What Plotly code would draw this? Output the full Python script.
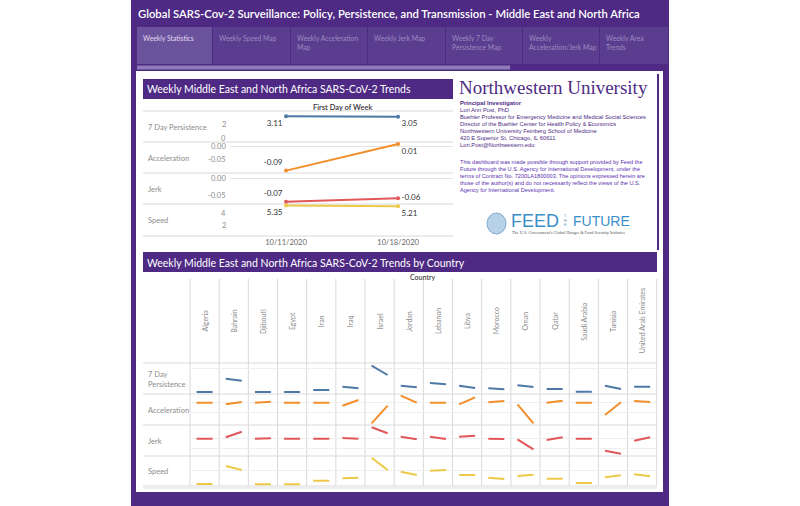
import plotly.graph_objects as go

W, H = 800, 506

# ---------------- data ----------------
weeks = ["10/11/2020", "10/18/2020"]
measures = ["7 Day Persistence", "Acceleration", "Jerk", "Speed"]

region_persistence = [3.11, 3.05]
region_acceleration = [-0.09, 0.01]
region_jerk = [-0.07, -0.06]
region_speed = [5.35, 5.21]

countries = ["Algeria", "Bahrain", "Djibouti", "Egypt", "Iran", "Iraq", "Israel", "Jordan",
             "Lebanon", "Libya", "Morocco", "Oman", "Qatar", "Saudi Arabia", "Tunisia",
             "United Arab Emirates"]
persistence_wk1 = [2.0, 28.6, 2.0, 2.0, 6.0, 12.6, 54.6, 14.6, 20.0, 14.6, 9.4, 15.4, 8.0, 2.6, 14.6, 12.6]
persistence_wk2 = [2.0, 24.6, 2.0, 2.0, 6.2, 9.4, 36.0, 11.4, 17.4, 10.0, 7.4, 12.0, 8.0, 2.6, 8.0, 12.6]
acceleration_wk1 = [0.0, -0.8, 0.0, 0.0, 0.0, -1.5, -10.3, 3.5, 0.0, -0.8, 0.2, -0.8, 0.0, 0.0, -6.15, 0.85]
acceleration_wk2 = [0.0, 0.35, 0.5, 0.0, 0.0, 1.35, -1.5, 0.0, 0.0, 2.7, 0.85, -10.3, 1.0, 0.0, 0.2, 0.35]
jerk_wk1 = [0.0, 0.7, 0.0, 0.0, 0.0, 0.35, 5.7, 1.0, 1.0, 1.0, 0.0, -0.3, -0.65, 0.0, -6.0, -1.0]
jerk_wk2 = [0.0, 3.5, 0.2, 0.0, 0.0, 0.0, 2.7, -0.3, -0.15, 1.5, -0.15, -5.3, 0.7, 0.0, -7.5, 0.7]
speed_wk1 = [1.8, 38.0, 1.6, 1.6, 8.6, 13.4, 54.6, 26.6, 28.6, 20.0, 14.6, 18.0, 12.6, 4.0, 15.4, 21.4]
speed_wk2 = [1.8, 30.0, 1.6, 1.6, 8.6, 14.6, 30.0, 20.0, 30.0, 20.0, 12.0, 20.6, 12.6, 4.0, 19.4, 17.4]

tabs = ["Weekly Statistics", "Weekly Speed Map", "Weekly Acceleration<br>Map", "Weekly Jerk Map",
        "Weekly 7 Day<br>Persistence Map", "Weekly<br>Acceleration/Jerk Map", "Weekly Area<br>Trends"]

contact_lines = ["Lori Ann Post, PhD",
                 "Buehler Professor for Emergency Medicine and Medical Social Sciences",
                 "Director of the Buehler Center for Health Policy & Economics",
                 "Northwestern University Feinberg School of Medicine",
                 "420 E Superior St, Chicago, IL 60611",
                 "Lori.Post@Northwestern.edu"]
disclaimer_lines = ["This dashboard was made possible through support provided by Feed the",
                    "Future through the U.S. Agency for International Development, under the",
                    "terms of Contract No. 7200LA1800003. The opinions expressed herein are",
                    "those of the author(s) and do not necessarily reflect the views of the U.S.",
                    "Agency for International Development."]

# ---------------- style ----------------
PURPLE = "#4e2a84"
TAB = "#5a3d8e"
TAB_ACTIVE = "#6b529d"
BLUE, ORANGE, RED, YELLOW = "#4e79a7", "#f28e2b", "#e15759", "#edc948"
FONT = "Lato"
GRID = "#d9d9d9"
TICK_GREY = "#8c8c8c"


def px(x):
    return x / W


def py(y):
    return 1 - y / H


shapes = []
annotations = []


def rect(x0, y0, x1, y1, color, layer="below"):
    shapes.append(dict(type="rect", xref="paper", yref="paper", x0=px(x0), x1=px(x1),
                       y0=py(y1), y1=py(y0), fillcolor=color, line=dict(width=0), layer=layer))


def hline(x0, x1, y, color=GRID, width=1):
    shapes.append(dict(type="line", xref="paper", yref="paper", x0=px(x0), x1=px(x1),
                       y0=py(y), y1=py(y), line=dict(color=color, width=width), layer="below"))


def vline(x, y0, y1, color=GRID, width=1):
    shapes.append(dict(type="line", xref="paper", yref="paper", x0=px(x), x1=px(x),
                       y0=py(y0), y1=py(y1), line=dict(color=color, width=width), layer="below"))


def text(x, y, s, size, color, xanchor="left", yanchor="middle", family=FONT, weight=None,
         angle=0, align="left"):
    f = dict(size=size, color=color, family=family)
    if weight:
        f["weight"] = weight
    annotations.append(dict(x=px(x), y=py(y), xref="paper", yref="paper", text=s, showarrow=False,
                            xanchor=xanchor, yanchor=yanchor, font=f, textangle=angle,
                            align=align, borderpad=0))


# ---------------- frame ----------------
rect(131, 0, 669, 506, PURPLE)
text(137, 14, "Global SARS-Cov-2 Surveillance: Policy, Persistence, and Transmission - Middle East and North Africa",
     11.3, "white", weight=600)
tab_edges = [137, 213, 291, 368, 446, 523, 600, 669]
for i, t in enumerate(tabs):
    rect(tab_edges[i], 27, tab_edges[i + 1] - 1, 64, TAB_ACTIVE if i == 0 else TAB)
    text(tab_edges[i] + 5, 33, t, 6.8, "#e4dcf0" if i == 0 else "#9a8bc0", yanchor="top")
shapes.append(dict(type="rect", xref="paper", yref="paper", x0=px(137), x1=px(510), y0=py(69.5),
                   y1=py(65.5), fillcolor="#8d7cb8", line=dict(width=0), layer="below"))
rect(136, 71, 663, 492, "white")

# ---------------- top chart decorations ----------------
rect(143, 79, 453, 99, PURPLE)
text(146, 89.5, "Weekly Middle East and North Africa SARS-CoV-2 Trends", 10.5, "white")
text(342, 107, "First Day of Week", 7.5, "#333333", xanchor="center", weight=600)
for y in [111, 142, 173, 204, 236]:
    hline(143, 453, y)
for y, m in zip([127.7, 158, 189, 220.7], measures):
    text(147, y, m, 7.5, TICK_GREY)

# ---------------- right text panel ----------------
text(458, 87, "Northwestern University", 19, PURPLE, family="Liberation Serif")
text(459, 103, "Principal Investigator", 6, PURPLE, family="Liberation Sans", weight=700)
for k, line in enumerate(contact_lines):
    text(459, 110 + k * 6.9, line, 5.8, PURPLE, family="Liberation Sans")
for k, line in enumerate(disclaimer_lines):
    text(459, 162 + k * 7, line, 5.6, "#5b2fb0", family="Liberation Sans")
shapes.append(dict(type="circle", xref="paper", yref="paper", x0=px(487), x1=px(506), y0=py(234),
                   y1=py(213), fillcolor="#b7d1e8", line=dict(color="#7fa9cf", width=1), layer="above"))
text(510, 221, "FEED", 18, "#3a8fc8", family="Liberation Sans")
text(565, 221, "T<br>H<br>E", 3.6, "#3a8fc8", family="Liberation Sans", xanchor="center")
text(572, 221, "FUTURE", 14, "#3a8fc8", family="Liberation Sans")
text(511, 232.5, "The U.S. Government's Global Hunger & Food Security Initiative", 4.3, "#555555",
     family="Liberation Serif")
vline(658, 74, 250, PURPLE, 2)

# ---------------- bottom chart decorations ----------------
rect(143, 252, 657, 272, PURPLE)
text(146, 262.5, "Weekly Middle East and North Africa SARS-CoV-2 Trends by Country", 10.5, "white")
text(423, 277, "Country", 7, "#444444", xanchor="center", weight=600)
col_left, col_w = 190.0, 29.17
for i in range(17):
    vline(col_left + i * col_w, 279, 486)
for y in [363, 394, 425, 456, 486]:
    hline(143, 657, y)
rect(143, 486.5, 657, 489, "#eeeeee")
for i, c in enumerate(countries):
    text(col_left + (i + 0.5) * col_w, 321, c, 7, TICK_GREY, xanchor="center", angle=-90)
text(147, 379.5, "7 Day<br>Persistence", 7.5, TICK_GREY)
for y, m in zip([410, 441, 471], measures[1:]):
    text(147, y, m, 7.5, TICK_GREY)

# ---------------- traces ----------------
fig = go.Figure()
top_series = [
    (region_persistence, BLUE, "y", ["bottom left", "bottom right"]),
    (region_acceleration, ORANGE, "y2", ["top left", "bottom right"]),
    (region_jerk, RED, "y3", ["top left", "middle right"]),
    (region_speed, YELLOW, "y4", ["bottom left", "bottom right"]),
]
for vals, color, yax, pos in top_series:
    fig.add_trace(go.Scatter(x=weeks, y=vals, mode="lines+markers+text", xaxis="x", yaxis=yax,
                             line=dict(color=color, width=2), marker=dict(size=4, color=color),
                             text=[f"{v:.2f}" for v in vals], textposition=pos,
                             textfont=dict(size=8, color="#333333", family=FONT),
                             showlegend=False, hoverinfo="skip", cliponaxis=False))

bottom_series = [
    (persistence_wk1, persistence_wk2, BLUE),
    (acceleration_wk1, acceleration_wk2, ORANGE),
    (jerk_wk1, jerk_wk2, RED),
    (speed_wk1, speed_wk2, YELLOW),
]
for r, (w1, w2, color) in enumerate(bottom_series):
    for i in range(len(countries)):
        fig.add_trace(go.Scatter(x=weeks, y=[w1[i], w2[i]], mode="lines", xaxis=f"x{i + 2}",
                                 yaxis=f"y{r + 5}", line=dict(color=color, width=2),
                                 showlegend=False, hoverinfo="skip"))

# ---------------- axes ----------------
layout = dict(width=W, height=H, margin=dict(l=0, r=0, t=0, b=0), paper_bgcolor="white",
              plot_bgcolor="rgba(0,0,0,0)", shapes=shapes, annotations=annotations,
              showlegend=False, font=dict(family=FONT))

layout["xaxis"] = dict(domain=[px(230), px(453)], type="category", categoryorder="array",
                       categoryarray=weeks, range=[-0.5, 1.49], anchor="y4", showgrid=False,
                       zeroline=False, showline=False, ticks="", tickfont=dict(size=7.5, color="#666666", family=FONT))
top_axes = [
    ([142, 111], [-0.57, 3.86], [2.0, 0.0], ["2", "0"]),
    ([173, 142], [-0.099, 0.0176], [0.0, -0.05], ["0.00", "-0.05"]),
    ([204, 173], [-0.077, 0.016], [0.0, -0.05], ["0.00", "-0.05"]),
    ([236, 204], [0.12, 5.61], [4.0, 2.0], ["4", "2"]),
]
for k, (dom, rng, tv, tt) in enumerate(top_axes):
    name = "yaxis" if k == 0 else f"yaxis{k + 1}"
    yref = "y" if k == 0 else f"y{k + 1}"
    layout[name] = dict(domain=[py(dom[0]), py(dom[1])], range=rng, showticklabels=False,
                        anchor="x", showgrid=False, zeroline=(k in (1, 2)), zerolinecolor="#e3e3e3",
                        zerolinewidth=1, showline=False, ticks="")
    # axis tick labels, positioned through the axis scale
    for v, t in zip(tv, tt):
        annotations.append(dict(x=px(227), xref="paper", y=v, yref=yref, text=" " + t, showarrow=False,
                                xanchor="right", yanchor="middle", borderpad=0,
                                font=dict(size=7.5, color=TICK_GREY, family=FONT)))

for i in range(len(countries)):
    layout[f"xaxis{i + 2}"] = dict(domain=[px(col_left + i * col_w), px(col_left + (i + 1) * col_w)],
                                   type="category", categoryorder="array", categoryarray=weeks,
                                   range=[-0.41, 1.41], visible=False, anchor="y8")
bottom_axes = [
    ([394, 363], [-2, 60], [0, 50]),
    ([425, 394], [-11.15, 4.35], [-5, 0]),
    ([456, 425], [-8.65, 6.85], [-5, 0]),
    ([486, 456], [-2, 58], [0, 30]),
]
for k, (dom, rng, tv) in enumerate(bottom_axes):
    layout[f"yaxis{k + 5}"] = dict(domain=[py(dom[0]), py(dom[1])], range=rng, tickvals=tv,
                                   showticklabels=False, showgrid=True, gridcolor="#efefef",
                                   zeroline=False, showline=False, ticks="", anchor="x2")

fig.update_layout(**layout)
fig.write_html("out.html", config={"displayModeBar": False},
               post_script="document.body.style.margin='0px';document.body.style.overflow='hidden';")
